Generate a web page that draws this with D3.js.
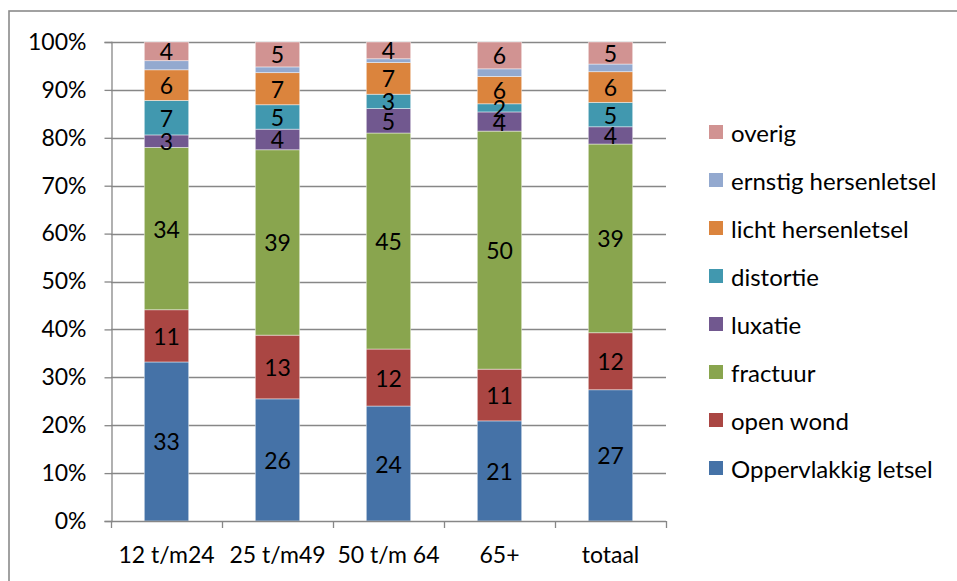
<!DOCTYPE html>
<html>
<head>
<meta charset="utf-8">
<script src="https://cdn.jsdelivr.net/npm/d3@7"></script>
<style>
  html, body { margin: 0; padding: 0; background: #fff; }
  svg { display: block; font-family: Lato, "Open Sans", sans-serif; }
</style>
</head>
<body>
<svg id="chart" width="957" height="581"></svg>
<script>
// Age groups on the category axis
const categories = ["12 t/m24", "25 t/m49", "50 t/m 64", "65+", "totaal"];

// Injury types, bottom of the stack first
const seriesNames = [
  "Oppervlakkig letsel", "open wond", "fractuur", "luxatie",
  "distortie", "licht hersenletsel", "ernstig hersenletsel", "overig"
];

// Share (%) of each injury type per age group
const oppervlakkig = [33.2, 25.5, 24.0, 20.9, 27.4];
const openWond     = [10.9, 13.3, 11.9, 10.8, 11.9];
const fractuur     = [33.9, 38.7, 45.1, 49.7, 39.4];
const luxatie      = [2.6, 4.3, 5.1, 4.0, 3.6];
const distortie    = [7.2, 5.1, 3.0, 1.7, 5.1];
const lichtHersen  = [6.4, 6.7, 6.6, 5.7, 6.4];
const ernstigHersen= [1.9, 1.2, 0.8, 1.6, 1.6];
const overig       = [3.9, 5.2, 3.5, 5.6, 4.6];

const seriesValues = [oppervlakkig, openWond, fractuur, luxatie, distortie, lichtHersen, ernstigHersen, overig];
const seriesColors = ["#4572A7", "#AA4643", "#89A54E", "#71588F", "#4198AF", "#DB843D", "#93A9CF", "#D19392"];
// Series that carry value labels inside their segments
const labelled = [true, true, true, true, true, true, false, true];

const yTicks = [0, 0.1, 0.2, 0.3, 0.4, 0.5, 0.6, 0.7, 0.8, 0.9, 1];

// Build rows for d3.stack
const rows = categories.map((c, i) => {
  const r = { cat: c };
  seriesNames.forEach((s, k) => { r[s] = seriesValues[k][i]; });
  return r;
});

const svg = d3.select("#chart");
const W = 957, H = 581;
const plot = { left: 111, right: 666, top: 42, bottom: 521 };
const fontSize = 23;
const legendFontSize = 24;
const gridColor = "#878787";

// Chart area border
svg.append("rect")
  .attr("x", 9).attr("y", 11)
  .attr("width", W).attr("height", H)
  .attr("fill", "#fff")
  .attr("stroke", "#8a8a8a").attr("stroke-width", 1.6);

const x = d3.scaleBand()
  .domain(categories)
  .range([plot.left, plot.right])
  .paddingInner(0.6).paddingOuter(0.3);

const y = d3.scaleLinear().domain([0, 1]).range([plot.bottom, plot.top]);

// Horizontal gridlines
svg.append("g")
  .selectAll("line")
  .data(yTicks.slice(1))
  .join("line")
  .attr("x1", plot.left).attr("x2", plot.right)
  .attr("y1", d => Math.round(y(d)) + 0.5).attr("y2", d => Math.round(y(d)) + 0.5)
  .attr("stroke", gridColor).attr("stroke-width", 1.3);

// Stacked bars, normalised to 100%
const stack = d3.stack().keys(seriesNames).offset(d3.stackOffsetExpand);
const stacked = stack(rows);

const layers = svg.append("g").selectAll("g")
  .data(stacked)
  .join("g")
  .attr("fill", (d, i) => seriesColors[i]);

layers.selectAll("rect")
  .data(d => d)
  .join("rect")
  .attr("x", d => x(d.data.cat))
  .attr("width", x.bandwidth())
  .attr("y", d => y(d[1]))
  .attr("height", d => y(d[0]) - y(d[1]))
  .attr("stroke", "#ffffff").attr("stroke-opacity", 0.55).attr("stroke-width", 0.8);

// Value labels in the segments
stacked.forEach((layer, k) => {
  if (!labelled[k]) return;
  svg.append("g")
    .selectAll("text")
    .data(layer)
    .join("text")
    .attr("x", d => x(d.data.cat) + x.bandwidth() / 2)
    .attr("y", d => (y(d[0]) + y(d[1])) / 2)
    .attr("text-anchor", "middle")
    .attr("dominant-baseline", "central")
    .attr("font-size", fontSize)
    .attr("fill", "#000")
    .text(d => Math.round(d.data[layer.key]));
});

// Y axis
const yAxis = svg.append("g")
  .attr("transform", `translate(${plot.left + 0.5},0)`)
  .call(d3.axisLeft(y).tickValues(yTicks).tickFormat(d3.format(".0%")).tickSize(7).tickPadding(18));
yAxis.select(".domain").attr("stroke", gridColor).attr("stroke-width", 1.3);
yAxis.selectAll(".tick line").attr("stroke", gridColor).attr("stroke-width", 1.3);
yAxis.selectAll(".tick text")
  .attr("font-size", fontSize).attr("font-family", "Lato, sans-serif").attr("fill", "#000");

// X axis: ticks at the category boundaries
const xAxisG = svg.append("g");
xAxisG.append("line")
  .attr("x1", plot.left).attr("x2", plot.right)
  .attr("y1", plot.bottom + 0.5).attr("y2", plot.bottom + 0.5)
  .attr("stroke", gridColor).attr("stroke-width", 1.3);
const boundaries = categories.map(c => x(c) - x.step() * x.paddingOuter()).concat([plot.right]);
xAxisG.selectAll("line.tick")
  .data(boundaries)
  .join("line")
  .attr("class", "tick")
  .attr("x1", d => Math.round(d) + 0.5).attr("x2", d => Math.round(d) + 0.5)
  .attr("y1", plot.bottom).attr("y2", plot.bottom + 7)
  .attr("stroke", gridColor).attr("stroke-width", 1.3);
xAxisG.selectAll("text")
  .data(categories)
  .join("text")
  .attr("x", d => x(d) + x.bandwidth() / 2)
  .attr("y", 554)
  .attr("text-anchor", "middle")
  .attr("dominant-baseline", "central")
  .attr("font-size", fontSize)
  .attr("fill", "#000")
  .text(d => d);

// Legend, top entry is the top of the stack
const legendOrder = seriesNames.map((s, i) => i).reverse();
const legend = svg.append("g")
  .selectAll("g")
  .data(legendOrder)
  .join("g")
  .attr("transform", (d, j) => `translate(709, ${132 + j * 48})`);
legend.append("rect")
  .attr("x", 0).attr("y", -7)
  .attr("width", 14).attr("height", 14)
  .attr("fill", d => seriesColors[d]);
legend.append("text")
  .attr("x", 22).attr("y", 0)
  .attr("dominant-baseline", "central")
  .attr("font-size", legendFontSize)
  .attr("fill", "#000")
  .text(d => seriesNames[d]);
</script>
</body>
</html>
